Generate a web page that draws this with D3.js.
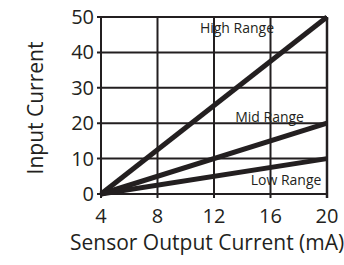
<!DOCTYPE html>
<html><head><meta charset="utf-8">
<script src="https://cdn.jsdelivr.net/npm/d3@7"></script>
<style>body{margin:0;background:#fff}svg{display:block}</style>
</head><body>
<svg id="c" width="344" height="265"></svg>
<script>
const xTicks = [4, 8, 12, 16, 20];
const yTicks = [0, 10, 20, 30, 40, 50];
const seriesNames = ["High Range", "Mid Range", "Low Range"];
const seriesStart = [[4, 0], [4, 0], [4, 0]];
const seriesEnd = [[20, 50], [20, 20], [20, 10]];
const labelPos = [[11.0, 45.5], [13.5, 20.3], [14.6, 2.6]];
const xTitle = "Sensor Output Current (mA)";
const yTitle = "Input Current";

const col = "#231f20";
const svg = d3.select("#c");
const x = d3.scaleLinear().domain([4, 20]).range([101, 327]);
const y = d3.scaleLinear().domain([0, 50]).range([194, 17]);
const font = "'Open Sans', sans-serif";

// grid
svg.append("g").selectAll("line").data(xTicks).join("line")
  .attr("x1", d => x(d)).attr("x2", d => x(d))
  .attr("y1", y(50)).attr("y2", y(0) + 4)
  .attr("stroke", col).attr("stroke-width", d => d === 20 ? 2.5 : 2);
svg.append("g").selectAll("line").data(yTicks).join("line")
  .attr("x1", x(4) - 4).attr("x2", x(20))
  .attr("y1", d => y(d)).attr("y2", d => y(d))
  .attr("stroke", col).attr("stroke-width", 2);

// tick labels
svg.append("g").selectAll("text").data(yTicks).join("text")
  .attr("x", x(4) - 7).attr("y", d => y(d) + 7)
  .attr("text-anchor", "end").attr("font-family", font).attr("font-size", 20)
  .attr("fill", col).text(d => d);
svg.append("g").selectAll("text").data(xTicks).join("text")
  .attr("x", d => x(d)).attr("y", y(0) + 29)
  .attr("text-anchor", "middle").attr("font-family", font).attr("font-size", 20)
  .attr("fill", col).text(d => d);

// series lines
svg.append("g").selectAll("line").data(seriesNames).join("line")
  .attr("x1", (d, i) => x(seriesStart[i][0])).attr("y1", (d, i) => y(seriesStart[i][1]))
  .attr("x2", (d, i) => x(seriesEnd[i][0])).attr("y2", (d, i) => y(seriesEnd[i][1]))
  .attr("stroke", col).attr("stroke-width", 5);

// labels
svg.append("g").selectAll("text").data(seriesNames).join("text")
  .attr("x", (d, i) => x(labelPos[i][0])).attr("y", (d, i) => y(labelPos[i][1]))
  .attr("font-family", font).attr("font-size", 14).attr("fill", col).text(d => d);

// titles
svg.append("text").attr("x", 70).attr("y", 250)
  .attr("font-family", font).attr("font-size", 21).attr("fill", col).text(xTitle);
svg.append("text").attr("transform", "translate(43,108) rotate(-90)")
  .attr("text-anchor", "middle")
  .attr("font-family", font).attr("font-size", 21).attr("fill", col).text(yTitle);
</script>
</body></html>
